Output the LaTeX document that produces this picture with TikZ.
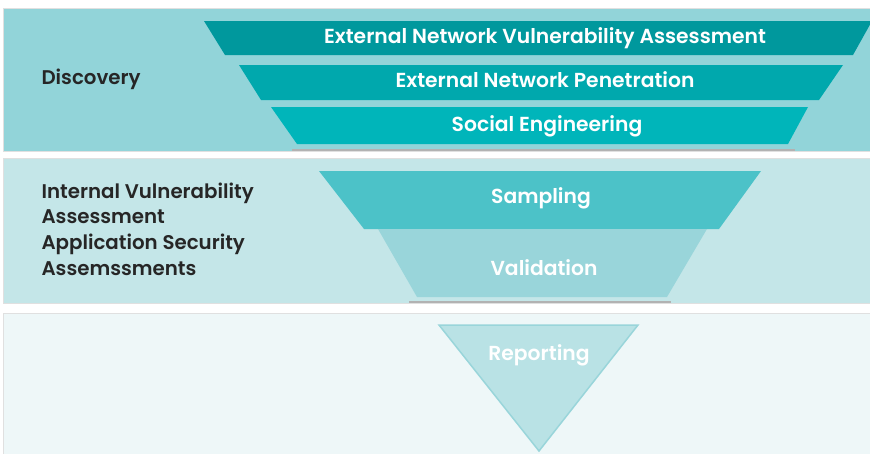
\documentclass[tikz,border=0pt]{standalone}
\usepackage{fontspec}
\setmainfont{Poppins}[BoldFont={Poppins SemiBold}]
\usetikzlibrary{positioning}
\definecolor{bandone}{RGB}{146,212,217}
\definecolor{bandtwo}{RGB}{196,230,232}
\definecolor{bandthree}{RGB}{238,247,248}
\definecolor{extvuln}{RGB}{0,152,157}
\definecolor{extpen}{RGB}{0,168,173}
\definecolor{social}{RGB}{0,181,186}
\definecolor{sampling}{RGB}{76,194,200}
\definecolor{validation}{RGB}{153,213,218}
\definecolor{reporting}{RGB}{185,226,229}
\tikzset{
  band/.style={draw=black!12,line width=0.8pt},
  stage/.style={text=white,font=\bfseries\fontsize{20.3}{22}\selectfont},
  side/.style={text=black!85,anchor=west,align=left,font=\bfseries\fontsize{19.8}{25.7}\selectfont},
  shadow/.style={draw=black!30,line width=1.2pt}
}
\begin{document}
\begin{tikzpicture}[x=1pt,y=-1pt]
\useasboundingbox (0,0) rectangle (870,453);
\fill[white] (0,0) rectangle (870,453);

\filldraw[band,fill=bandone] (3,8) rectangle (872,151);
\filldraw[band,fill=bandtwo] (3,158) rectangle (872,303);
\filldraw[band,fill=bandthree] (3,313) rectangle (872,456);

\draw[shadow] (292,150) -- (795,150);
\fill[extvuln] (204,21) -- (872,21) -- (853,55) -- (225,55) -- cycle;
\fill[extpen] (239,65) -- (843,65) -- (819,100) -- (261,100) -- cycle;
\fill[social] (271,107) -- (808,107) -- (788,144) -- (297,144) -- cycle;

\draw[shadow] (409,302) -- (671,302);
\fill[sampling] (319,171) -- (761,171) -- (719,229) -- (364,229) -- cycle;
\fill[validation] (378,229) -- (707,229) -- (667,297) -- (417,297) -- cycle;

\filldraw[fill=reporting,draw=validation,line width=1.5pt] (439,325) -- (638,325) -- (539,451) -- cycle;

\node[stage] (extvulnlabel) at (545,38) {External Network Vulnerability Assessment};
\node[stage] (extpenlabel) at (545,80) {External Network Penetration};
\node[stage] (sociallabel) at (547,126) {Social Engineering};
\node[stage] (samplinglabel) at (541,198) {Sampling};
\node[stage] (validationlabel) at (544,268) {Validation};
\node[stage] (reportinglabel) at (539,355) {Reporting};

\node[side] (discovery) at (38,79) {Discovery};
\node[side] (internal) at (38,229) {Internal Vulnerability\\Assessment\\Application Security\\Assemssments};
\end{tikzpicture}
\end{document}
